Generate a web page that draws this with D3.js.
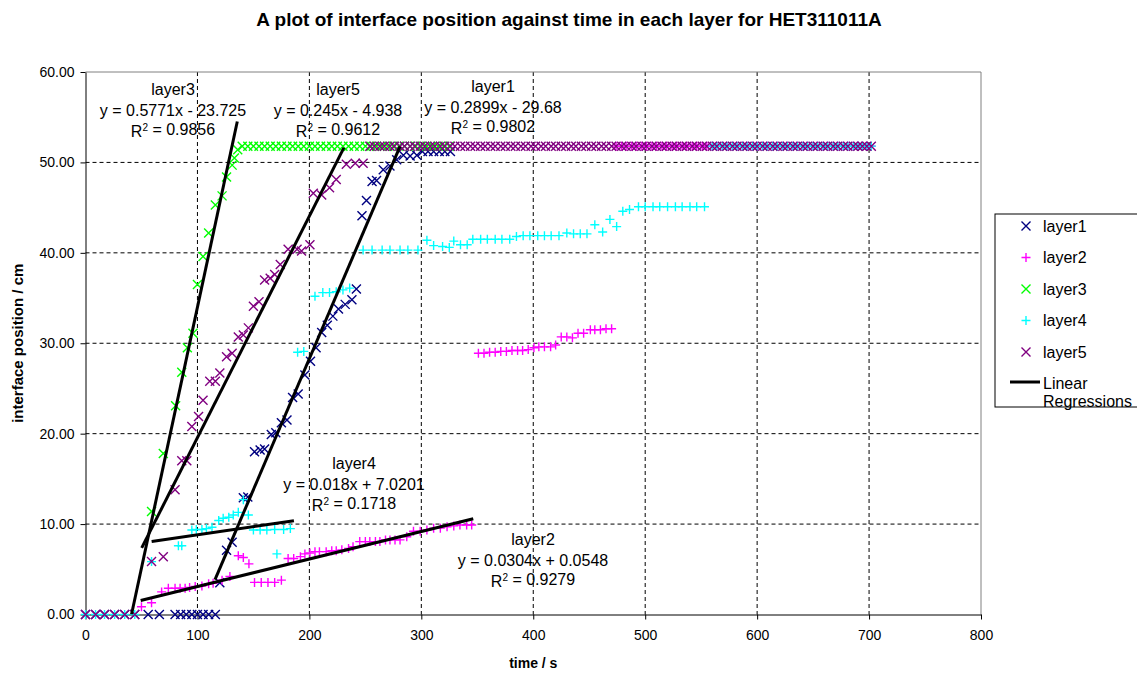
<!DOCTYPE html>
<html>
<head>
<meta charset="utf-8">
<script src="https://cdn.jsdelivr.net/npm/d3@7"></script>
<style>
  body { margin: 0; background: #fff; }
  text { font-family: "Liberation Sans", Arial, sans-serif; }
</style>
</head>
<body>
<svg id="chart" width="1137" height="675"></svg>
<script>
// time (s), interface position (cm) for each layer
const layer1 = [[0,0],[9,0],[17,0],[26,0],[35,0],[44,0],[56,0],[66,0],[80,0],[85,0],[90,0],[95,0],[100,0],[105,0],[110,0],[116,0],
  [120,3.5],[126,7.1],[131,8.0],[141,12.9],[145,13.0],[151,18.0],[156,18.2],[160,18.3],[166,19.9],[170,20.1],[175,21.2],[180,21.5],
  [185,24.0],[190,24.4],[196,26.5],[201,28.0],[206,29.5],[211,31.2],[216,32.0],[221,33.0],[226,33.8],
  [232,34.3],[238,34.8],[242,36.0],[247,44.1],[251,45.8],[256,47.9],[260,48.0],[266,49.2],[272,49.6],[278,50.3],[284,50.8],[290,50.7],[296,50.8],
  [301,51.2],[306,51.2],[311,51.2],[316,51.2],[321,51.2],[326,51.2]];

const layer2 = [[50,0.86],[59,1.3],[68,2.5],[74,2.9],[80,2.9],[84.5,2.9],[89,2.9],[93,3.0],[98,3.1],[104,3.15],[110,3.4],[114,3.45],[122,3.8],[129,4.2],
  [136.5,6.5],[141,6.3],[146,5.6],[151,3.55],[157,3.55],[163,3.55],[169,3.55],[175,3.8],[181,6.2],[186,6.2],[192,6.4],[196,6.7],[200.5,6.8],
  [205,6.95],[209,6.95],[215,6.95],[220,7.05],[224,7.05],[229,7.15],[235,7.3],[239,7.5],[245,8.06],[250,8.06],[254,8.06],[259,8.06],[263,8.06],
  [268,8.25],[272,8.25],[276.5,8.25],[281,8.25],[287,8.6],[293,9.2],[299,9.2],[305,9.35],[311,9.55],[317,9.55],[323,9.7],[329,9.8],[334.5,9.9],[340.5,9.9],[345,9.9],
  [351,28.9],[356,28.9],[361,29.0],[366,29.0],[371,29.1],[376,29.1],[381,29.2],[386,29.2],[390.5,29.2],[395.5,29.3],[400.6,29.5],[405,29.6],[410,29.6],
  [415.5,29.6],[420,29.8],[425,30.7],[430,30.7],[435,30.6],[440,31.1],[445,31.1],[451,31.5],[455,31.5],[460,31.5],[465,31.6],[470,31.6],
  [474,51.8],[479,51.8],[483,51.8],[488,51.8],[492,51.8],[497,51.8],[501,51.8],[506,51.8],[510,51.8],[515,51.8],[519,51.8],[524,51.8],[528,51.8],
  [533,51.8],[537,51.8],[542,51.8],[546,51.8],[551,51.8],[555,51.8],[560,51.8],[564,51.8],[569,51.8],[573,51.8],[578,51.8],[582,51.8],[587,51.8],
  [591,51.8],[596,51.8],[600,51.8],[605,51.8],[609,51.8],[614,51.8],[618,51.8],[623,51.8],[627,51.8],[632,51.8],[636,51.8],[641,51.8],[645,51.8],
  [650,51.8],[654,51.8],[659,51.8],[663,51.8],[668,51.8],[672,51.8],[677,51.8],[681,51.8],[686,51.8],[690,51.8],[694,51.8],[698,51.8],[702,51.8]];

const layer3 = [[59,11.4],[69.5,17.8],[80.5,23.1],[86,26.8],[91,29.5],[96,31.1],[100,36.5],[105,39.6],[110,42.2],[116,45.3],[122,46.3],[126,48.4],
  [131,49.7],[133,50.5],[136,51.4],
  [140,51.8],[145,51.8],[150,51.8],[155,51.8],[160,51.8],[165,51.8],[170,51.8],[175,51.8],[180,51.8],[185,51.8],[190,51.8],[195,51.8],[200,51.8],
  [205,51.8],[210,51.8],[215,51.8],[220,51.8],[225,51.8],[230,51.8],[235,51.8],[240,51.8],[245,51.8],[250,51.8],[255,51.8],[260,51.8],[265,51.8],
  [270,51.8],[275,51.8],[280,51.8],[285,51.8],[290,51.8],[295,51.8],[300,51.8],[305,51.8],[310,51.8],[315,51.8],[320,51.8],[325,51.8]];

const layer4 = [[0,0],[9,0],[17,0],[26,0],[35,0],[44,0],[59,5.85],[83,7.6],[86,7.6],[95,9.35],[99,9.4],[104,9.4],[108,9.5],[113,9.65],
  [119,10.4],[123,10.65],[128,10.75],[132,11.0],[136.5,11.3],[141,12.7],[145.5,11.0],[150,9.35],[156,9.35],[162,9.35],[169,9.4],[171,6.7],[177,9.4],[183,9.5],
  [189.5,29.0],[195,29.1],[205,35.2],[212,35.6],[218,35.6],[224,35.7],[230,35.9],[236,36.1],
  [248,40.3],[256,40.3],[265,40.3],[272,40.3],[281,40.3],[288,40.3],[297,40.3],[305,41.4],[311,40.8],[319,40.7],[325,40.6],[329,41.3],[335,40.9],
  [341,40.9],[346,41.5],[353,41.5],[359,41.5],[366,41.5],[372,41.5],[379,41.5],[385,41.8],[391,41.9],[397,41.9],[404,41.9],[410,41.9],[416,41.9],
  [423,41.9],[430,42.2],[436,42.1],[442,42.1],[448,42.1],[455,43.1],[462,42.3],[468.5,43.7],[474.5,42.9],[480,44.6],[486,44.8],
  [494,45.1],[500,45.1],[507,45.1],[513,45.1],[520,45.1],[527,45.1],[533,45.1],[540,45.1],[546,45.1],[553,45.1],
  [560,51.8],[564,51.8],[569,51.8],[573,51.8],[578,51.8],[582,51.8],[587,51.8],[591,51.8],[596,51.8],[600,51.8],[605,51.8],[609,51.8],[614,51.8],
  [618,51.8],[623,51.8],[627,51.8],[632,51.8],[636,51.8],[641,51.8],[645,51.8],[650,51.8],[654,51.8],[659,51.8],[663,51.8],[668,51.8],[672,51.8],
  [677,51.8],[681,51.8],[686,51.8],[690,51.8],[694,51.8],[698,51.8],[702,51.8]];

const layer5 = [[0,0],[9,0],[17,0],[26,0],[35,0],[44,0],[59,5.85],[69.5,6.4],[80,13.8],[86,17.0],[90.5,17.0],[95,20.8],[101,21.9],[105,23.7],
  [111,25.8],[116,25.8],[120,26.7],[126,28.5],[131,28.9],[136.5,30.7],[141,30.9],[145.5,31.7],[150,34.1],[155,34.6],[160,37.0],[165,37.2],
  [169,37.6],[174,38.7],[181,40.4],[189,40.4],[193,40.2],[200.5,40.9],[203.5,46.6],[211,46.4],[218,47.2],[224,48.1],[233,49.8],[241,49.9],[248,49.9],
  [254,51.8],[258,51.8],[263,51.8],[267,51.8],[272,51.8],[276,51.8],[281,51.8],[285,51.8],[290,51.8],[294,51.8],[299,51.8],[303,51.8],[308,51.8],
  [312,51.8],[317,51.8],[321,51.8],[326,51.8],[330,51.8],[335,51.8],[339,51.8],[344,51.8],[348,51.8],[353,51.8],[357,51.8],[362,51.8],[366,51.8],
  [371,51.8],[375,51.8],[380,51.8],[384,51.8],[389,51.8],[393,51.8],[398,51.8],[402,51.8],[407,51.8],[411,51.8],[416,51.8],[420,51.8],[425,51.8],
  [429,51.8],[434,51.8],[438,51.8],[443,51.8],[447,51.8],[452,51.8],[456,51.8],[461,51.8],[465,51.8],[470,51.8],[474,51.8],[479,51.8],[483,51.8],
  [488,51.8],[492,51.8],[497,51.8],[501,51.8],[506,51.8],[510,51.8],[515,51.8],[519,51.8],[524,51.8],[528,51.8],[533,51.8],[537,51.8],[542,51.8],
  [546,51.8],[551,51.8],[555,51.8],[560,51.8],[564,51.8],[569,51.8],[573,51.8],[578,51.8],[582,51.8],[587,51.8],[591,51.8],[596,51.8],[600,51.8],
  [605,51.8],[609,51.8],[614,51.8],[618,51.8],[623,51.8],[627,51.8],[632,51.8],[636,51.8],[641,51.8],[645,51.8],[650,51.8],[654,51.8],[659,51.8],
  [663,51.8],[668,51.8],[672,51.8],[677,51.8],[681,51.8],[686,51.8],[690,51.8],[694,51.8],[698,51.8],[702,51.8]];

const seriesNames = ["layer1", "layer2", "layer3", "layer4", "layer5"];
const xTicks = [0, 100, 200, 300, 400, 500, 600, 700, 800];
const yTicks = [0, 10, 20, 30, 40, 50, 60];

// linear trendlines: slope, intercept, x range they were fitted over
const trendNames = ["layer3", "layer5", "layer1", "layer4", "layer2"];
const trendSlope = [0.5771, 0.245, 0.2899, 0.018, 0.0304];
const trendIntercept = [-23.725, -4.938, -29.68, 7.0201, 0.0548];
const trendFrom = [41.1, 50.2, 115.7, 59.1, 49.3];
const trendTo = [135.6, 230.9, 281, 186.2, 346.4];
const trendR2 = ["0.9856", "0.9612", "0.9802", "0.1718", "0.9279"];

// styling / layout
const colors = {layer1: "#000080", layer2: "#ff00ff", layer3: "#00ff00", layer4: "#00ffff", layer5: "#800080"};
const shapes = {layer1: "x", layer2: "+", layer3: "x", layer4: "+", layer5: "x"};
const labelPos = {layer3: [173, 89], layer5: [338, 89], layer1: [493, 86], layer4: [354, 463], layer2: [533, 539]};

const plot = {left: 85.5, right: 981, top: 72, bottom: 614.5};
const svg = d3.select("#chart");
svg.append("rect").attr("width", 1137).attr("height", 675).attr("fill", "#fff");

const x = d3.scaleLinear().domain([0, 800]).range([plot.left, plot.right]);
const y = d3.scaleLinear().domain([0, 60]).range([plot.bottom, plot.top]);

// gridlines
svg.append("g").selectAll("line")
    .data(yTicks.filter(d => d > 0 && d < 60))
    .join("line")
    .attr("x1", plot.left).attr("x2", plot.right)
    .attr("y1", d => y(d)).attr("y2", d => y(d))
    .attr("stroke", "#000").attr("stroke-dasharray", "4,3").attr("stroke-width", 1);
svg.append("g").selectAll("line")
    .data(xTicks.filter(d => d > 0 && d < 800))
    .join("line")
    .attr("y1", plot.top).attr("y2", plot.bottom)
    .attr("x1", d => x(d)).attr("x2", d => x(d))
    .attr("stroke", "#000").attr("stroke-dasharray", "4,3").attr("stroke-width", 1);

// plot area border (top / right)
svg.append("path")
    .attr("d", `M${plot.left},${plot.top}H${plot.right}V${plot.bottom}`)
    .attr("fill", "none").attr("stroke", "#808080");

// axes
const yAxis = svg.append("g")
    .attr("transform", `translate(${plot.left},0)`)
    .call(d3.axisLeft(y).tickValues(yTicks).tickFormat(d3.format(".2f")).tickSize(5).tickSizeOuter(0).tickPadding(6));
const xAxis = svg.append("g")
    .attr("transform", `translate(0,${plot.bottom})`)
    .call(d3.axisBottom(x).tickValues(xTicks).tickFormat(d3.format("d")).tickSize(5).tickSizeOuter(0).tickPadding(11));
[yAxis, xAxis].forEach(g => {
  g.selectAll("text").attr("font-size", 14).attr("font-family", "Liberation Sans, Arial, sans-serif").attr("fill", "#000");
  g.select(".domain").attr("stroke", "#000");
  g.selectAll(".tick line").attr("stroke", "#000");
});

// markers
const markerPath = {
  "x": "M-4.5,-4.5L4.5,4.5M-4.5,4.5L4.5,-4.5",
  "+": "M-4.5,0H4.5M0,-4.5V4.5"
};
const seriesData = {layer1, layer2, layer3, layer4, layer5};
seriesNames.forEach(name => {
  svg.append("g").selectAll("path")
      .data(seriesData[name])
      .join("path")
      .attr("transform", d => `translate(${x(d[0])},${y(d[1])})`)
      .attr("d", markerPath[shapes[name]])
      .attr("fill", "none")
      .attr("stroke", colors[name])
      .attr("stroke-width", 1.4);
});

// trendlines
svg.append("clipPath").attr("id", "plotClip")
  .append("rect").attr("x", plot.left).attr("y", plot.top)
  .attr("width", plot.right - plot.left).attr("height", plot.bottom - plot.top);

const trendG = svg.append("g").attr("clip-path", "url(#plotClip)");
trendNames.forEach((name, i) => {
  const f = t => trendSlope[i] * t + trendIntercept[i];
  trendG.append("line")
      .attr("x1", x(trendFrom[i])).attr("y1", y(f(trendFrom[i])))
      .attr("x2", x(trendTo[i])).attr("y2", y(f(trendTo[i])))
      .attr("stroke", "#000").attr("stroke-width", 3);
});

// trendline labels
const fmtEq = i => {
  const b = trendIntercept[i];
  return `y = ${trendSlope[i]}x ${b < 0 ? "-" : "+"} ${Math.abs(b)}`;
};
trendNames.forEach((name, i) => {
  const [lx, ly] = labelPos[name];
  const g = svg.append("g").attr("font-size", 16).attr("fill", "#000").attr("text-anchor", "middle");
  g.append("text").attr("x", lx).attr("y", ly).attr("dy", "0.35em").text(name);
  g.append("text").attr("x", lx).attr("y", ly + 21).attr("dy", "0.35em").text(fmtEq(i));
  const r = g.append("text").attr("x", lx).attr("y", ly + 42).attr("dy", "0.35em");
  r.append("tspan").text("R");
  r.append("tspan").attr("font-size", 10).attr("dy", "-0.6em").text("2");
  r.append("tspan").attr("dy", "0.25em").text(` = ${trendR2[i]}`);
});

// titles
svg.append("text").attr("x", 569).attr("y", 26).attr("text-anchor", "middle")
    .attr("font-size", 19).attr("font-weight", "bold").text("A plot of interface position against time in each layer for HET311011A");
svg.append("text").attr("x", (plot.left + plot.right) / 2).attr("y", 668).attr("text-anchor", "middle")
    .attr("font-size", 14).attr("font-weight", "bold").text("time / s");
svg.append("text").attr("transform", `translate(23,${(plot.top + plot.bottom) / 2}) rotate(-90)`)
    .attr("text-anchor", "middle").attr("font-size", 15).attr("font-weight", "bold").text("interface position / cm");

// legend
const legend = svg.append("g");
legend.append("rect").attr("x", 995).attr("y", 214).attr("width", 160).attr("height", 193)
    .attr("fill", "#fff").attr("stroke", "#000");
const legendY = d3.scalePoint().domain(seriesNames).range([226, 352]);
seriesNames.forEach(name => {
  legend.append("path")
      .attr("transform", `translate(1026,${legendY(name)})`)
      .attr("d", markerPath[shapes[name]])
      .attr("fill", "none").attr("stroke", colors[name]).attr("stroke-width", 1.4);
  legend.append("text").attr("x", 1043).attr("y", legendY(name)).attr("dy", "0.35em")
      .attr("font-size", 16).text(name);
});
legend.append("line").attr("x1", 1010).attr("x2", 1040).attr("y1", 382).attr("y2", 382)
    .attr("stroke", "#000").attr("stroke-width", 3);
legend.append("text").attr("x", 1043).attr("y", 383).attr("dy", "0.35em").attr("font-size", 16).text("Linear");
legend.append("text").attr("x", 1043).attr("y", 401).attr("dy", "0.35em").attr("font-size", 16).text("Regressions");
</script>
</body>
</html>
